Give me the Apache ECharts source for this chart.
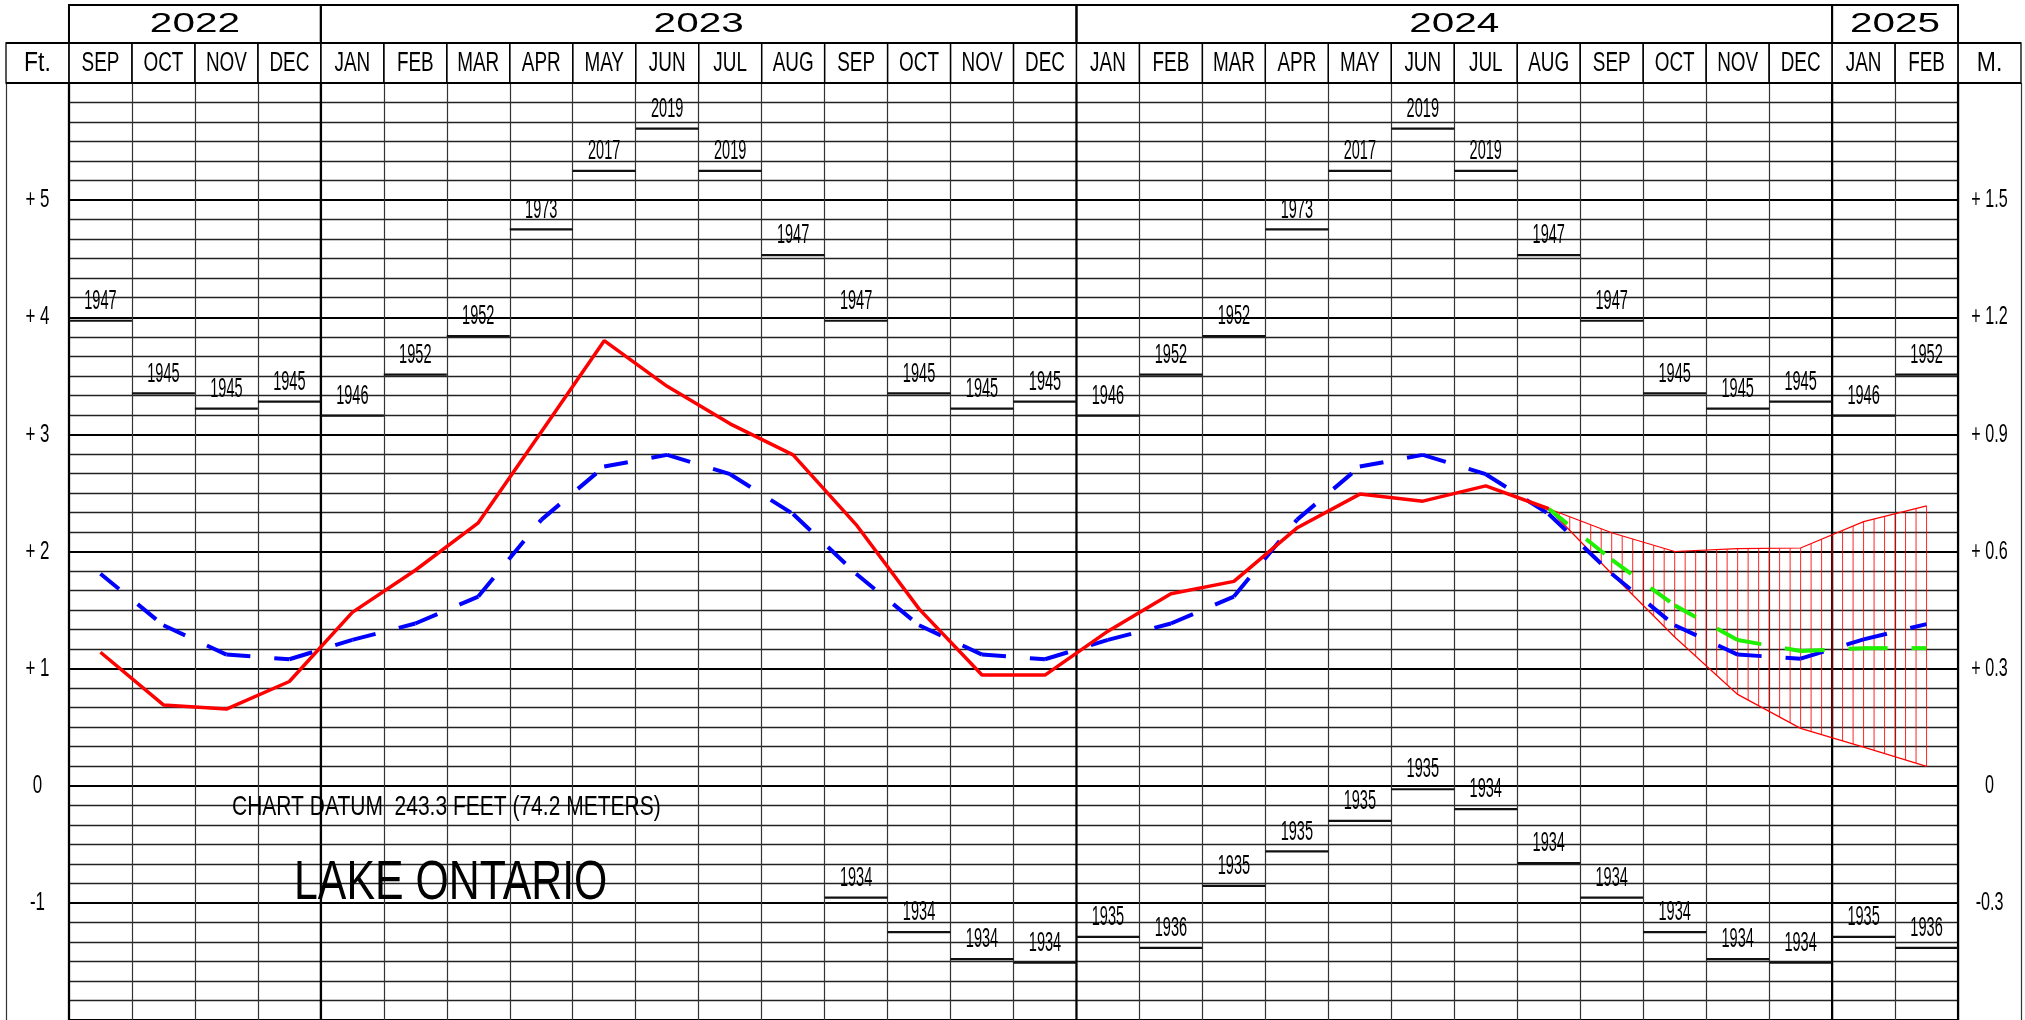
<!DOCTYPE html>
<html>
<head>
<meta charset="utf-8">
<script src="https://cdn.jsdelivr.net/npm/echarts@6/dist/echarts.min.js"></script>
<style>html,body{margin:0;padding:0;background:#fff;}#c{width:2025px;height:1020px;}</style>
</head>
<body>
<div id="c"></div>
<script>
// ---------------- DATA ----------------
const months = ['SEP','OCT','NOV','DEC','JAN','FEB','MAR','APR','MAY','JUN','JUL','AUG',
  'SEP','OCT','NOV','DEC','JAN','FEB','MAR','APR','MAY','JUN','JUL','AUG',
  'SEP','OCT','NOV','DEC','JAN','FEB'];
const years = ['2022','2023','2024','2025'];
const yearMonthCounts = [4, 12, 12, 2];

const ftTicks = [5, 4, 3, 2, 1, 0, -1];
const ftLabels = ['+ 5', '+ 4', '+ 3', '+ 2', '+ 1', '0', '-1'];
const mLabels = ['+ 1.5', '+ 1.2', '+ 0.9', '+ 0.6', '+ 0.3', '0', '-0.3'];

const recordHigh = [3.97, 3.35, 3.22, 3.28, 3.16, 3.51, 3.84, 4.75, 5.25, 5.61, 5.25, 4.53,
  3.97, 3.35, 3.22, 3.28, 3.16, 3.51, 3.84, 4.75, 5.25, 5.61, 5.25, 4.53,
  3.97, 3.35, 3.22, 3.28, 3.16, 3.51];
const recordHighYear = ['1947','1945','1945','1945','1946','1952','1952','1973','2017','2019','2019','1947',
  '1947','1945','1945','1945','1946','1952','1952','1973','2017','2019','2019','1947',
  '1947','1945','1945','1945','1946','1952'];
const recordLow = [null, null, null, null, null, null, null, null, null, null, null, null,
  -0.955, -1.25, -1.48, -1.51, -1.29, -1.385, -0.855, -0.56, -0.30, -0.03, -0.20, -0.66,
  -0.955, -1.25, -1.48, -1.51, -1.29, -1.385];
const recordLowYear = [null, null, null, null, null, null, null, null, null, null, null, null,
  '1934','1934','1934','1934','1935','1936','1935','1935','1935','1935','1934','1934',
  '1934','1934','1934','1934','1935','1936'];

// recorded monthly mean levels (ft above chart datum), SEP 2022 - AUG 2024
const actual = [1.14, 0.69, 0.655, 0.89, 1.48, 1.84, 2.245, 3.02, 3.80, 3.41, 3.09, 2.825,
  2.23, 1.51, 0.945, 0.945, 1.32, 1.64, 1.745, 2.20, 2.49, 2.43, 2.56, 2.365];
// long-term average
const average = [1.81, 1.37, 1.12, 1.08, 1.245, 1.385, 1.615, 2.27, 2.725, 2.825, 2.66, 2.32,
  1.81, 1.37, 1.12, 1.08, 1.245, 1.385, 1.615, 2.27, 2.725, 2.825, 2.66, 2.32,
  1.81, 1.37, 1.12, 1.085, 1.25, 1.38];
// forecast (AUG 2024 - FEB 2025)
const forecastStart = 23;
const forecastMid  = [2.365, 1.93, 1.54, 1.245, 1.15, 1.175, 1.175];
const forecastHigh = [2.365, 2.16, 2.00, 2.025, 2.03, 2.255, 2.39];
const forecastLow  = [2.365, 1.81, 1.27, 0.78, 0.49, 0.33, 0.165];

const chartDatumText = 'CHART DATUM  243.3 FEET (74.2 METERS)';
const lakeName = 'LAKE ONTARIO';

// ---------------- HELPERS ----------------
const FONT = '"Liberation Sans", Arial, Helvetica, sans-serif';
function txt(x, y, text, size, sx, align) {
  return {
    type: 'text', x: x, y: y, scaleX: sx, scaleY: 1,
    style: {
      text: text, x: 0, y: 0, fill: '#000',
      font: size + 'px ' + FONT,
      align: align || 'center', verticalAlign: 'middle',
      textAlign: align || 'center', textVerticalAlign: 'middle'
    }
  };
}
function seg(p0, p1, color, width, dash) {
  const s = {stroke: color, lineWidth: width, lineCap: 'butt'};
  if (dash) s.lineDash = dash;
  return {type: 'line', shape: {x1: p0[0], y1: p0[1], x2: p1[0], y2: p1[1]}, style: s};
}

const yearSpans = [];
(function () { let s = 0; yearMonthCounts.forEach(n => { yearSpans.push([s, s + n]); s += n; }); })();
const yearBounds = [0].concat(yearSpans.map(d => d[1]));
const headerCells = ['Ft.'].concat(months, ['M.']);

function segments(values, start) {
  const out = [];
  for (let i = 0; i + 1 < values.length; i++) {
    if (values[i] == null || values[i + 1] == null) continue;
    out.push([start + i + 0.5, values[i], start + i + 1.5, values[i + 1]]);
  }
  return out;
}

const colW = 2015 / 32;
const gridHeader = {left: 6, right: 4, top: 5, height: 78, outerBoundsMode: 'none'};
const gridFrame  = {left: 6, right: 4, top: 83, bottom: 0, outerBoundsMode: 'none'};
const gridPlot   = {left: 6 + colW, right: 4 + colW, top: 83, bottom: 0, outerBoundsMode: 'none'};

const hiddenAxis = (min, max) => ({type: 'value', min: min, max: max, show: false});

const chart = echarts.init(document.getElementById('c'), null, {renderer: 'canvas'});
chart.setOption({
  animation: false,
  backgroundColor: '#fff',
  grid: [gridHeader, gridFrame, gridPlot],
  xAxis: [
    Object.assign(hiddenAxis(-1, 31), {gridIndex: 0}),
    {gridIndex: 1, type: 'value', min: -1, max: 31, interval: 1,
      axisLine: {show: false}, axisTick: {show: false}, axisLabel: {show: false},
      splitLine: {show: true, lineStyle: {color: '#333', width: 1.2}}},
    Object.assign(hiddenAxis(0, 30), {gridIndex: 2})
  ],
  yAxis: [
    Object.assign(hiddenAxis(0, 1.95), {gridIndex: 0}),
    Object.assign(hiddenAxis(-2, 6), {gridIndex: 1}),
    {gridIndex: 2, type: 'value', min: -2, max: 6, interval: 1,
      axisLine: {show: false}, axisTick: {show: false}, axisLabel: {show: false},
      splitLine: {show: true, lineStyle: {color: '#000', width: 2.2}},
      minorTick: {show: false, splitNumber: 6},
      minorSplitLine: {show: true, lineStyle: {color: '#222', width: 1.3}}}
  ],
  graphic: [
    {type: 'text', x: 232, y: 807, scaleX: 0.75, z: 50,
      style: {text: chartDatumText, x: 0, y: 0, font: '28px ' + FONT, fill: '#000',
        align: 'left', verticalAlign: 'middle', textAlign: 'left', textVerticalAlign: 'middle'}},
    {type: 'text', x: 294, y: 884, scaleX: 0.765, z: 50,
      style: {text: lakeName, x: 0, y: 0, font: '56px ' + FONT, fill: '#000',
        align: 'left', verticalAlign: 'middle', textAlign: 'left', textVerticalAlign: 'middle'}}
  ],
  series: [
    // header: month cells + Ft./M.
    {type: 'custom', xAxisIndex: 0, yAxisIndex: 0, silent: true, z: 10,
      data: headerCells.map((t, k) => [k - 1]),
      encode: {x: 0},
      renderItem: function (params, api) {
        const x = api.value(0);
        const p0 = api.coord([x, 1]), p1 = api.coord([x + 1, 0]);
        const label = headerCells[params.dataIndex];
        const side = (label === 'Ft.' || label === 'M.');
        return {type: 'group', children: [
          {type: 'rect', shape: {x: p0[0], y: p0[1], width: p1[0] - p0[0], height: p1[1] - p0[1]},
            style: {fill: 'none', stroke: '#000', lineWidth: 1.3}},
          txt((p0[0] + p1[0]) / 2, (p0[1] + p1[1]) / 2 + 1, label, 27, side ? 0.85 : 0.7)
        ]};
      }},
    // header: year cells
    {type: 'custom', xAxisIndex: 0, yAxisIndex: 0, silent: true, z: 11,
      data: yearSpans,
      encode: {x: [0, 1]},
      renderItem: function (params, api) {
        const s = api.value(0), e = api.value(1);
        const p0 = api.coord([s, 1.95]), p1 = api.coord([e, 1]);
        return {type: 'group', children: [
          {type: 'rect', shape: {x: p0[0], y: p0[1], width: p1[0] - p0[0], height: p1[1] - p0[1]},
            style: {fill: 'none', stroke: '#000', lineWidth: 2}},
          txt((p0[0] + p1[0]) / 2, (p0[1] + p1[1]) / 2 + 1, years[params.dataIndex], 27, 1.5)
        ]};
      }},
    // header: row rules
    {type: 'custom', xAxisIndex: 0, yAxisIndex: 0, silent: true, z: 12,
      data: [[-1, 31, 0], [-1, 31, 1]],
      encode: {x: [0, 1], y: 2},
      renderItem: function (params, api) {
        const y = api.value(2);
        return seg(api.coord([api.value(0), y]), api.coord([api.value(1), y]), '#000', 2);
      }},
    // body: year boundary rules
    {type: 'custom', xAxisIndex: 1, yAxisIndex: 1, silent: true, z: 3,
      data: yearBounds.map(b => [b]),
      encode: {x: 0},
      renderItem: function (params, api) {
        const x = api.value(0);
        return seg(api.coord([x, 6]), api.coord([x, -2]), '#000', 2.2);
      }},
    // body: side scale labels
    {type: 'custom', xAxisIndex: 1, yAxisIndex: 1, silent: true, z: 3,
      data: ftTicks.map(v => [v]),
      encode: {y: 0},
      renderItem: function (params, api) {
        const v = api.value(0);
        const pl = api.coord([-0.5, v]), pr = api.coord([30.5, v]);
        return {type: 'group', children: [
          txt(pl[0], pl[1], ftLabels[params.dataIndex], 26, 0.65),
          txt(pr[0], pr[1], mLabels[params.dataIndex], 26, 0.62)
        ]};
      }},
    // record highs
    {type: 'custom', xAxisIndex: 2, yAxisIndex: 2, silent: true, z: 5,
      data: recordHigh.map((v, i) => [i, v]),
      encode: {x: 0, y: 1},
      renderItem: function (params, api) {
        const i = api.value(0), v = api.value(1);
        const p0 = api.coord([i, v]), p1 = api.coord([i + 1, v]);
        return {type: 'group', children: [
          seg(p0, p1, '#111', 2.2),
          txt((p0[0] + p1[0]) / 2, p0[1] - 19.5, recordHighYear[i], 28, 0.52)
        ]};
      }},
    // record lows
    {type: 'custom', xAxisIndex: 2, yAxisIndex: 2, silent: true, z: 5,
      data: recordLow.map((v, i) => [i, v]).filter(d => d[1] !== null),
      encode: {x: 0, y: 1},
      renderItem: function (params, api) {
        const i = api.value(0), v = api.value(1);
        const p0 = api.coord([i, v]), p1 = api.coord([i + 1, v]);
        return {type: 'group', children: [
          seg(p0, p1, '#111', 2.2),
          txt((p0[0] + p1[0]) / 2, p0[1] - 19.5, recordLowYear[i], 28, 0.52)
        ]};
      }},
    // forecast range (hatched band)
    {type: 'custom', xAxisIndex: 2, yAxisIndex: 2, silent: true, z: 6,
      data: [[forecastStart + 0.5, forecastHigh[0]]],
      encode: {x: 0, y: 1},
      renderItem: function (params, api) {
        const n = forecastHigh.length;
        const up = [], lo = [];
        for (let k = 0; k < n; k++) {
          up.push(api.coord([forecastStart + k + 0.5, forecastHigh[k]]));
          lo.push(api.coord([forecastStart + k + 0.5, forecastLow[k]]));
        }
        const children = [];
        const steps = (n - 1) * 6;
        for (let s = 1; s <= steps; s++) {
          const k = Math.floor((s - 1) / 6);
          const f = s / 6 - k;
          const yu = forecastHigh[k] + (forecastHigh[k + 1] - forecastHigh[k]) * f;
          const yl = forecastLow[k] + (forecastLow[k + 1] - forecastLow[k]) * f;
          const x = forecastStart + 0.5 + s / 6;
          children.push(seg(api.coord([x, yu]), api.coord([x, yl]), 'rgba(255,0,0,0.85)', 1));
        }
        children.push({type: 'polyline', shape: {points: up}, style: {stroke: '#ff0000', lineWidth: 1.2, fill: null}});
        children.push({type: 'polyline', shape: {points: lo}, style: {stroke: '#ff0000', lineWidth: 1.2, fill: null}});
        return {type: 'group', children: children};
      }},
    // long-term average (blue dashed)
    {type: 'custom', xAxisIndex: 2, yAxisIndex: 2, silent: true, z: 7,
      data: segments(average, 0),
      encode: {x: [0, 2], y: [1, 3]},
      renderItem: function (params, api) {
        return seg(api.coord([api.value(0), api.value(1)]), api.coord([api.value(2), api.value(3)]),
          '#0000ff', 4, [24, 24]);
      }},
    // forecast most probable (green dashed)
    {type: 'custom', xAxisIndex: 2, yAxisIndex: 2, silent: true, z: 8,
      data: segments(forecastMid, forecastStart),
      encode: {x: [0, 2], y: [1, 3]},
      renderItem: function (params, api) {
        return seg(api.coord([api.value(0), api.value(1)]), api.coord([api.value(2), api.value(3)]),
          '#1ef000', 4, [24, 24]);
      }},
    // recorded levels (red)
    {type: 'line', xAxisIndex: 2, yAxisIndex: 2, silent: true, z: 9,
      data: actual.map((v, i) => [i + 0.5, v]),
      symbol: 'none', smooth: false,
      lineStyle: {color: '#ff0000', width: 3.5}}
  ]
});
</script>
</body>
</html>
